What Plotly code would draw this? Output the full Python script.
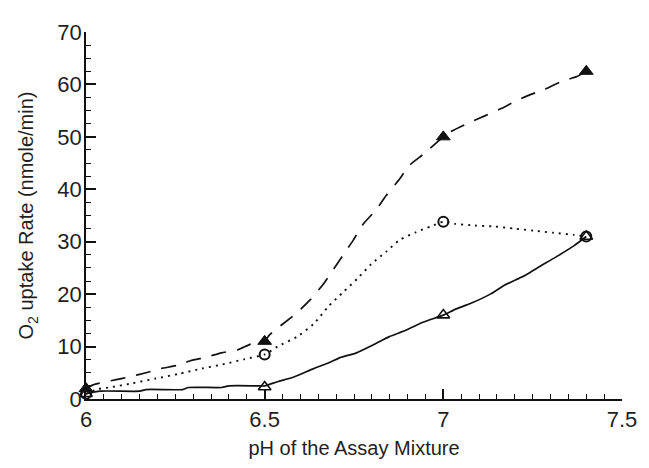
import plotly.graph_objects as go

# Measured points (markers)
ph = [6.0, 6.5, 7.0, 7.4]
rate_filled_tri = [2.0, 11.0, 50.0, 62.5]
rate_open_circle = [1.0, 8.5, 33.8, 31.0]
rate_open_tri = [1.0, 2.3, 16.0, 31.0]

# Curves
dash_x = [6.0, 6.02, 6.085, 6.12, 6.168, 6.209, 6.255, 6.292, 6.338, 6.379, 6.425, 6.462, 6.5,
          6.513, 6.591, 6.627, 6.665, 6.72, 6.748, 6.775, 6.812, 6.84, 6.877, 6.904, 6.946, 7.0,
          7.024, 7.079, 7.116, 7.162, 7.199, 7.245, 7.282, 7.332, 7.374, 7.4]
dash_y = [2.0, 2.7, 3.7, 4.2, 5.0, 5.8, 6.4, 7.3, 8.0, 8.8, 9.4, 10.5, 11.0,
          12.2, 16.5, 18.9, 22.0, 27.5, 30.3, 33.3, 36.1, 38.8, 41.9, 44.5, 46.8, 50.0,
          51.1, 52.9, 54.0, 55.4, 56.7, 58.1, 59.0, 60.6, 61.5, 62.5]

dot_x = [6.0, 6.034, 6.066, 6.13, 6.195, 6.26, 6.324, 6.389, 6.444, 6.5, 6.536, 6.591, 6.637,
         6.679, 6.72, 6.76, 6.798, 6.84, 6.877, 6.923, 6.964, 7.0, 7.033, 7.088, 7.144, 7.199,
         7.254, 7.309, 7.365, 7.4]
dot_y = [1.0, 1.9, 2.2, 3.0, 3.9, 4.8, 5.8, 6.7, 7.6, 8.5, 10.0, 11.9, 14.3,
         17.7, 20.4, 23.0, 25.7, 28.1, 30.3, 31.8, 32.9, 33.8, 33.4, 33.1, 32.9, 32.5,
         32.1, 31.7, 31.3, 31.0]

solid_x = [6.0, 6.04, 6.15, 6.168, 6.27, 6.287, 6.38, 6.40, 6.48, 6.5, 6.536, 6.582, 6.637,
           6.683, 6.711, 6.757, 6.803, 6.849, 6.895, 6.941, 7.0, 7.033, 7.079, 7.134, 7.171,
           7.227, 7.263, 7.318, 7.365, 7.4]
solid_y = [1.0, 1.5, 1.5, 1.8, 1.8, 2.2, 2.2, 2.5, 2.5, 2.5, 3.3, 4.2, 5.8,
           7.0, 7.9, 8.8, 10.3, 11.9, 13.1, 14.6, 16.0, 17.1, 18.3, 20.1, 21.7,
           23.5, 25.0, 27.2, 29.2, 31.0]

x_ticks = [6, 6.5, 7, 7.5]
x_tick_text = ["6", "6.5", "7", "7.5"]
y_ticks = [0, 10, 20, 30, 40, 50, 60, 70]

BLACK = "#111111"
fig = go.Figure()

fig.add_trace(go.Scatter(x=dash_x, y=dash_y, mode="lines",
                         line=dict(color=BLACK, width=1.7, dash="15px,11px", shape="spline", smoothing=0.6),
                         showlegend=False, hoverinfo="skip"))
fig.add_trace(go.Scatter(x=dot_x, y=dot_y, mode="lines",
                         line=dict(color=BLACK, width=1.9, dash="2px,5px", shape="spline", smoothing=0.6),
                         showlegend=False, hoverinfo="skip"))
fig.add_trace(go.Scatter(x=solid_x, y=solid_y, mode="lines",
                         line=dict(color=BLACK, width=1.7, shape="spline", smoothing=0.6),
                         showlegend=False, hoverinfo="skip"))

fig.add_trace(go.Scatter(x=ph, y=rate_filled_tri, mode="markers", cliponaxis=False,
                         marker=dict(symbol="triangle-up", size=12, color=BLACK,
                                     line=dict(color=BLACK, width=1)),
                         showlegend=False))
fig.add_trace(go.Scatter(x=ph, y=rate_open_circle, mode="markers", cliponaxis=False,
                         marker=dict(symbol="circle-open", size=10, color=BLACK,
                                     line=dict(color=BLACK, width=2)),
                         showlegend=False))
fig.add_trace(go.Scatter(x=ph, y=rate_open_tri, mode="markers", cliponaxis=False,
                         marker=dict(symbol="triangle-up-open", size=11, color=BLACK,
                                     line=dict(color=BLACK, width=1.6)),
                         showlegend=False))

font_family = "Liberation Sans, Arial, sans-serif"
fig.update_layout(
    width=641, height=460,
    margin=dict(l=78, r=19, t=14, b=65),
    paper_bgcolor="white", plot_bgcolor="white",
    font=dict(family=font_family, size=22, color="#231f20"),
    xaxis=dict(range=[6, 7.5], tickvals=x_ticks, ticktext=x_tick_text,
               showgrid=False, zeroline=False, showline=True, linecolor=BLACK, linewidth=1.6,
               ticks="inside", ticklen=10, tickwidth=1.6, tickcolor=BLACK,
               minor=dict(dtick=0.05, ticks="inside", ticklen=5, tickwidth=1.3, tickcolor=BLACK),
               title=dict(text="pH of the Assay Mixture", font=dict(size=20), standoff=10),
               tickfont=dict(size=22), ticklabelstandoff=0),
    yaxis=dict(range=[0, 70], tickvals=y_ticks,
               showgrid=False, zeroline=False, showline=True, linecolor=BLACK, linewidth=1.6,
               ticks="inside", ticklen=10, tickwidth=1.6, tickcolor=BLACK,
               minor=dict(dtick=2.5, ticks="inside", ticklen=5, tickwidth=1.3, tickcolor=BLACK),
               title=dict(text="O<sub>2</sub> uptake Rate (nmole/min)", font=dict(size=20), standoff=18),
               tickfont=dict(size=22), ticklabelstandoff=-2),
)

fig.write_html("out.html")
